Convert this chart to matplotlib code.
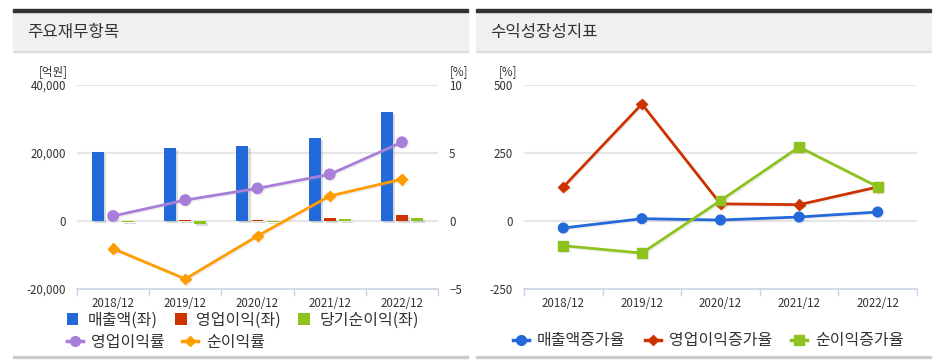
import numpy as np
import matplotlib
matplotlib.use("Agg")
import matplotlib.pyplot as plt
import matplotlib.patheffects as pe
from matplotlib.patches import Rectangle, Patch
from matplotlib.lines import Line2D

plt.rcParams['font.family'] = ['Noto Sans CJK KR', 'DejaVu Sans']

periods = ["2018/12", "2019/12", "2020/12", "2021/12", "2022/12"]

# 주요재무항목 (억원 / %)
sales = [20300, 21560, 21970, 24320, 31970]
op_profit = [75, 330, 300, 830, 1850]
net_profit = [-410, -920, -240, 450, 980]
op_margin = [0.37, 1.54, 2.40, 3.43, 5.79]
net_margin = [-2.03, -4.26, -1.10, 1.84, 3.07]

# 수익성장성지표 (%)
sales_growth = [-25.7, 8.5, 3.7, 14.7, 33.0]
op_growth = [125, 430, 63, 60, 125]
net_growth = [-91, -118, 75, 272, 126]

BLUE = "#2369da"
RED = "#cc3300"
GREEN = "#8dc21f"
PURPLE = "#a77fd9"
ORANGE = "#ff9c00"
AXIS_C = "#c9d5e4"
GRID_C = "#e6e6e6"
TXT = "#333333"

W, H = 939, 362
fig = plt.figure(figsize=(W / 100, H / 100), dpi=100)


def box(x, y, w, h):
    # pixel box (top-left origin) -> figure fraction rect
    return [x / W, 1 - (y + h) / H, w / W, h / H]


def panel(x0, x1, title):
    fig.patches.append(Rectangle((x0 / W, 1 - 51 / H), (x1 - x0) / W, 40 / H,
                                 transform=fig.transFigure, color="#f0f0f0", zorder=0))
    fig.patches.append(Rectangle((x0 / W, 1 - 12 / H), (x1 - x0) / W, 3 / H,
                                 transform=fig.transFigure, color="#333333", zorder=1))
    fig.patches.append(Rectangle((x0 / W, 1 - 52 / H), (x1 - x0) / W, 1 / H,
                                 transform=fig.transFigure, color="#dddddd", zorder=1))
    fig.patches.append(Rectangle((x0 / W, 1 - 358 / H), (x1 - x0) / W, 2 / H,
                                 transform=fig.transFigure, color="#cccccc", zorder=1))
    fig.text((x0 + 14) / W, 1 - 33 / H, title, fontsize=12, color=TXT,
             ha="left", va="center")


def style_axis(ax, ymin, ymax, yticks, ylabels):
    n = len(periods)
    x = np.arange(n)
    ax.set_xlim(-0.5, n - 0.5)
    ax.set_ylim(ymin, ymax)
    ax.set_yticks(yticks)
    ax.set_yticklabels(ylabels)
    ax.set_xticks(x)
    ax.set_xticklabels(periods)
    ax.set_xticks(np.arange(n + 1) - 0.5, minor=True)
    ax.tick_params(axis="x", which="major", length=0, pad=6, labelsize=8.3, colors=TXT)
    ax.tick_params(axis="x", which="minor", length=5, color=AXIS_C, width=1)
    ax.tick_params(axis="y", length=0, pad=8, labelsize=8.3, colors=TXT)
    for s in ["top", "right", "left"]:
        ax.spines[s].set_visible(False)
    ax.spines["bottom"].set_color(AXIS_C)
    ax.spines["bottom"].set_linewidth(1.2)
    for t in yticks[1:]:
        ax.axhline(t, color=GRID_C, lw=1.5, zorder=0)
    ax.patch.set_alpha(0)


bar_fx = [pe.SimplePatchShadow(offset=(1.5, -1.5), shadow_rgbFace="#888888", alpha=0.3), pe.Normal()]
line_fx = [pe.SimpleLineShadow(offset=(1, -1), shadow_color="#999999", alpha=0.15), pe.Normal()]

# ---- left panel ----
panel(13, 468, "주요재무항목")
ax1 = fig.add_axes(box(77, 85, 361, 204))
style_axis(ax1, -20000, 40000, [-20000, 0, 20000, 40000],
           ["-20,000", "0", "20,000", "40,000"])
x = np.arange(len(periods))
bw, off = 0.166, 0.208
for vals, dx, c in [(sales, -off, BLUE), (op_profit, 0, RED), (net_profit, off, GREEN)]:
    bars = ax1.bar(x + dx, vals, width=bw, color=c, zorder=2)
    for b in bars:
        b.set_path_effects(bar_fx)

ax1r = ax1.twinx()
ax1r.set_ylim(-5, 10)
ax1r.set_yticks([-5, 0, 5, 10])
ax1r.tick_params(axis="y", length=0, pad=8, labelsize=8.3, colors=TXT)
for s in ["top", "right", "left", "bottom"]:
    ax1r.spines[s].set_visible(False)
ax1r.plot(x, op_margin, color=PURPLE, lw=2, marker="o", ms=7.5, zorder=3,
          path_effects=line_fx)
ax1r.plot(x, net_margin, color=ORANGE, lw=2, marker="D", ms=5.5, zorder=3,
          path_effects=line_fx)
fig.text(68 / W, 1 - 72 / H, "[억원]", fontsize=8.3, color=TXT, ha="right", va="center")
fig.text(450 / W, 1 - 72 / H, "[%]", fontsize=8.3, color=TXT, ha="left", va="center")

LEG_FS = 11.5
h1 = [Patch(facecolor=BLUE, label="매출액(좌)"),
      Patch(facecolor=RED, label="영업이익(좌)"),
      Patch(facecolor=GREEN, label="당기순이익(좌)")]
leg1 = fig.legend(handles=h1, loc="center left", bbox_to_anchor=(67 / W, 1 - 320 / H),
                  ncol=3, frameon=False, fontsize=LEG_FS, handlelength=0.7,
                  handleheight=0.7, handletextpad=0.6, columnspacing=1.1,
                  borderpad=0, borderaxespad=0)
for t in leg1.get_texts():
    t.set_color(TXT)
h2 = [Line2D([], [], color=PURPLE, lw=2.5, marker="o", ms=7, label="영업이익률"),
      Line2D([], [], color=ORANGE, lw=2.5, marker="D", ms=5.5, label="순이익률")]
leg2 = fig.legend(handles=h2, loc="center left", bbox_to_anchor=(67 / W, 1 - 342 / H),
                  ncol=2, frameon=False, fontsize=LEG_FS, handlelength=1.0,
                  handletextpad=0.5, columnspacing=1.1, borderpad=0, borderaxespad=0)
for t in leg2.get_texts():
    t.set_color(TXT)

# ---- right panel ----
panel(476, 931, "수익성장성지표")
ax2 = fig.add_axes(box(524, 85, 393, 204))
style_axis(ax2, -250, 500, [-250, 0, 250, 500], ["-250", "0", "250", "500"])
ax2.plot(x, sales_growth, color=BLUE, lw=2, marker="o", ms=7, zorder=3,
         path_effects=line_fx)
ax2.plot(x, op_growth, color=RED, lw=2, marker="D", ms=5.5, zorder=3,
         path_effects=line_fx)
ax2.plot(x, net_growth, color=GREEN, lw=2, marker="s", ms=7, zorder=3,
         path_effects=line_fx)
fig.text(517 / W, 1 - 72 / H, "[%]", fontsize=8.3, color=TXT, ha="right", va="center")

h3 = [Line2D([], [], color=BLUE, lw=2.5, marker="o", ms=7, label="매출액증가율"),
      Line2D([], [], color=RED, lw=2.5, marker="D", ms=5.5, label="영업이익증가율"),
      Line2D([], [], color=GREEN, lw=2.5, marker="s", ms=7, label="순이익증가율")]
leg3 = fig.legend(handles=h3, loc="center left", bbox_to_anchor=(513 / W, 1 - 341 / H),
                  ncol=3, frameon=False, fontsize=LEG_FS, handlelength=1.0,
                  handletextpad=0.5, columnspacing=1.2, borderpad=0, borderaxespad=0)
for t in leg3.get_texts():
    t.set_color(TXT)

fig.savefig("out.png", dpi=100)
